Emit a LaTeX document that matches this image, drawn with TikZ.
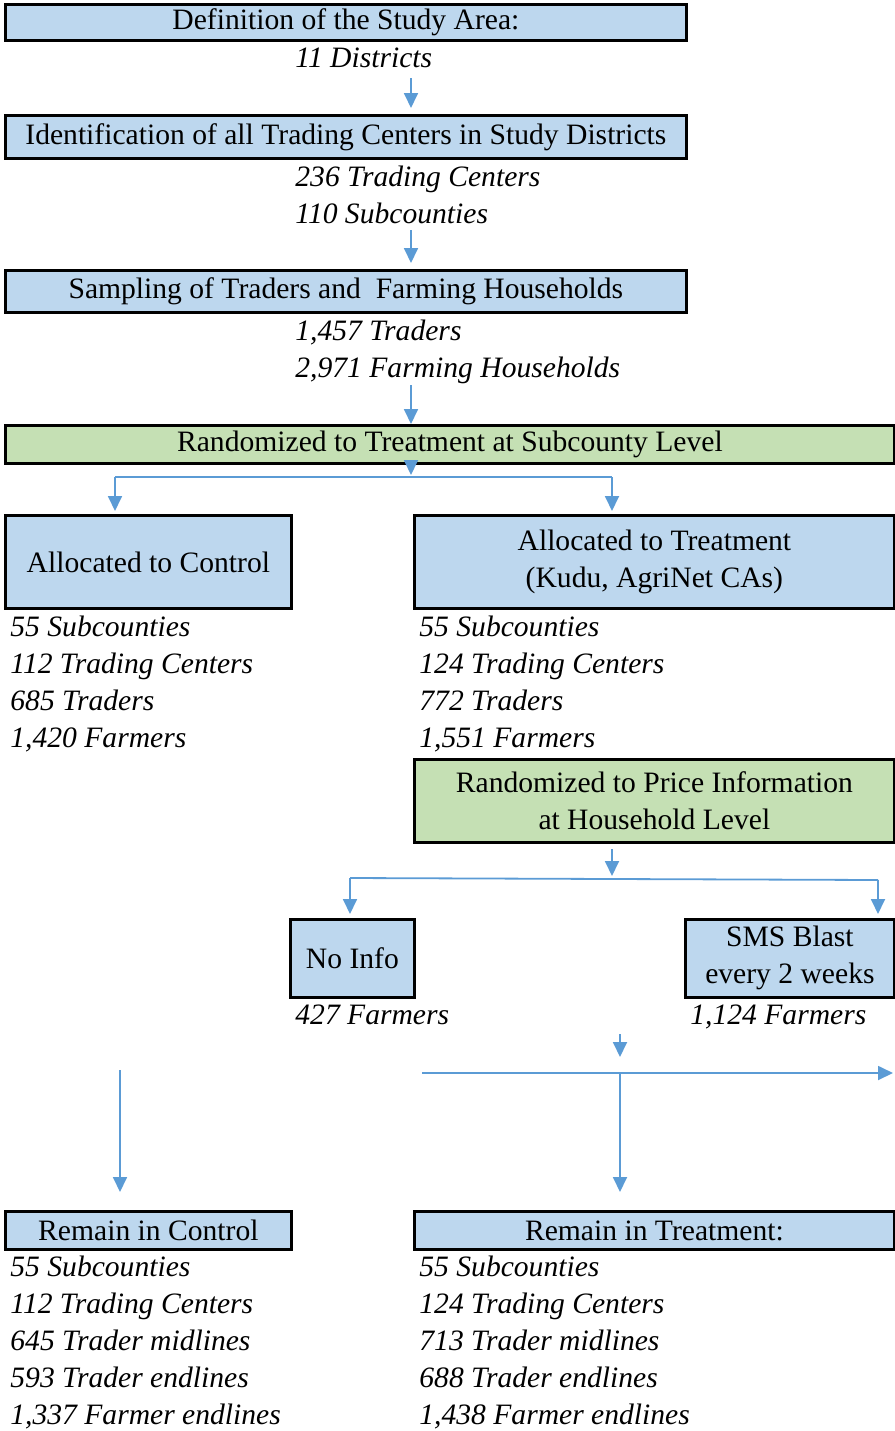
\documentclass[tikz,border=0pt]{standalone}
\usepackage{fontspec}
\setmainfont{Liberation Serif}
\usetikzlibrary{arrows.meta}
\definecolor{boxblue}{HTML}{BDD7EE}
\definecolor{boxgreen}{HTML}{C5E0B4}
\definecolor{arrowblue}{HTML}{5B9BD5}
\tikzset{
  box/.style={draw, line width=1.4pt, fill=boxblue, inner sep=0pt, align=center, anchor=north west},
  gbox/.style={box, fill=boxgreen},
  note/.style={font=\fontsize{14.8}{18.5}\selectfont\itshape, inner sep=0pt, anchor=north west, align=left},
  lin/.style={draw=arrowblue, line width=0.9pt},
  arr/.style={lin, -{Triangle[width=7pt,length=7.5pt]}}
}
\begin{document}
\begin{tikzpicture}[x=0.5pt, y=-0.5pt, every node/.style={font=\fontsize{14.8}{18.5}\selectfont}]
\useasboundingbox (0,0) rectangle (895,1431);
% study area
  \node[box, minimum width=340.5pt, minimum height=18pt] (area) at (4,3)
    {Definition of the Study Area:};
  \node[note] (areanote) at (295,47) {11 Districts};
% trading centers
  \node[box, minimum width=340.5pt, minimum height=21.5pt] (ident) at (4,114)
    {Identification of all Trading Centers in Study Districts};
  \node[note] (identnote) at (295,166) {236 Trading Centers\\110 Subcounties};
% sampling
  \node[box, minimum width=340.5pt, minimum height=21pt] (sampl) at (4,269)
    {Sampling of Traders and~ Farming Households};
  \node[note] (samplnote) at (295,320) {1,457 Traders\\2,971 Farming Households};
% randomized subcounty
  \node[gbox, minimum width=444.5pt, minimum height=19pt] (rand) at (4,424)
    {Randomized to Treatment at Subcounty Level};
% control / treatment
  \node[box, minimum width=143pt, minimum height=46.5pt] (ctrl) at (4,514)
    {Allocated to Control};
  \node[box, minimum width=240pt, minimum height=46.5pt] (treat) at (413,514)
    {Allocated to Treatment\\(Kudu, AgriNet CAs)};
  \node[note] (ctrlnote) at (10,616) {55 Subcounties\\112 Trading Centers\\
    685 Traders\\1,420 Farmers};
  \node[note] (treatnote) at (419,616) {55 Subcounties\\124 Trading Centers\\
    772 Traders\\1,551 Farmers};
% randomized household
  \node[gbox, minimum width=240pt, minimum height=41.5pt] (price) at (413,758)
    {Randomized to Price Information\\at Household Level};
% info arms
  \node[box, minimum width=62pt, minimum height=39pt] (noinfo) at (289,918) {No Info};
  \node[box, minimum width=104.5pt, minimum height=39pt] (sms) at (684,918)
    {SMS Blast\\every 2 weeks};
  \node[note] (noinfonote) at (295,1004) {427 Farmers};
  \node[note] (smsnote) at (690,1004) {1,124 Farmers};
% remain
  \node[box, minimum width=143pt, minimum height=19pt] (rctrl) at (4,1210) {Remain in Control};
  \node[box, minimum width=240pt, minimum height=19pt] (rtreat) at (413,1210) {Remain in Treatment:};
  \node[note] (rctrlnote) at (10,1256) {55 Subcounties\\112 Trading Centers\\
    645 Trader midlines\\593 Trader endlines\\1,337 Farmer endlines};
  \node[note] (rtreatnote) at (419,1256) {55 Subcounties\\124 Trading Centers\\
    713 Trader midlines\\688 Trader endlines\\1,438 Farmer endlines};
% connectors
  \coordinate (c1) at (411,78);
  \coordinate (c2) at (411,230);
  \coordinate (c3) at (411,385);
  \coordinate (split1) at (411,477);
  \coordinate (splitl) at (115,477);
  \coordinate (splitr) at (612,477);
  \coordinate (p1) at (612,849);
  \coordinate (split2) at (612,878);
  \coordinate (splitnl) at (350,878);
  \coordinate (splitnr) at (878,880);
  \coordinate (m1) at (620,1034);
  \coordinate (m2) at (620,1057);
  \coordinate (hl) at (422,1073);
  \coordinate (hr) at (893,1073);
  \coordinate (hm) at (620,1073);
  \coordinate (cl) at (120,1070);
  \draw[arr] (c1) -- ([yshift=3pt]ident.north -| c1);
  \draw[arr] (c2) -- ([yshift=3pt]sampl.north -| c2);
  \draw[arr] (c3) -- (rand.north -| c3);
  \draw[arr] (rand.south -| c3) -- ([yshift=1pt]split1);
  \draw[lin] (splitl) -- (splitr);
  \draw[arr] (splitl) -- ([yshift=1.5pt]ctrl.north -| splitl);
  \draw[arr] (splitr) -- ([yshift=1.5pt]treat.north -| splitr);
  \draw[arr] (p1) -- ([yshift=1pt]split2);
  \draw[lin] (splitnl) -- (splitnr);
  \draw[arr] (splitnl) -- ([yshift=2pt]noinfo.north -| splitnl);
  \draw[arr] (splitnr) -- ([yshift=2pt]sms.north -| splitnr);
  \draw[arr] (m1) -- (m2);
  \draw[arr] (hl) -- (hr);
  \draw[arr] (hm) -- ([yshift=9pt]rtreat.north -| hm);
  \draw[arr] (cl) -- ([yshift=9pt]rctrl.north -| cl);
\end{tikzpicture}
\end{document}
